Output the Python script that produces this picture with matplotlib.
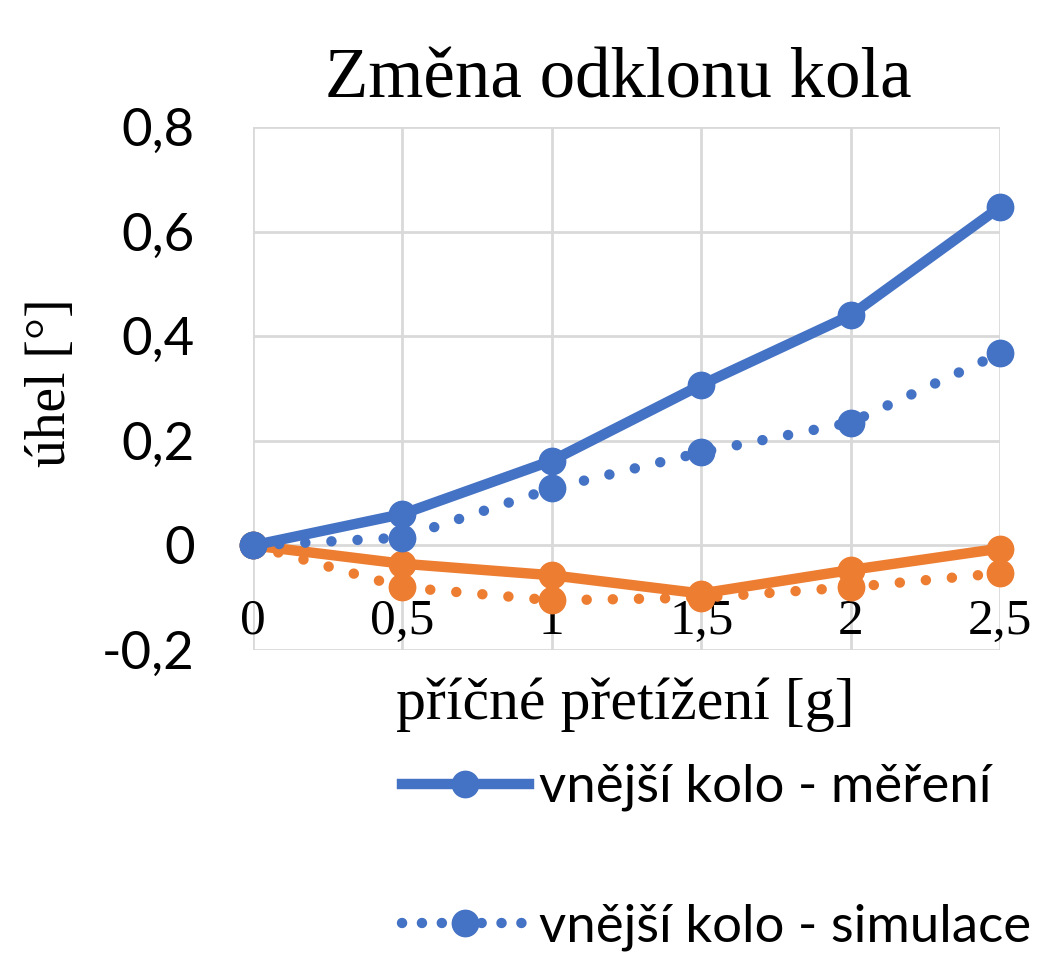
import matplotlib
matplotlib.use("Agg")
import matplotlib.pyplot as plt
from matplotlib.lines import Line2D

# data
zatizeni = [0, 0.5, 1, 1.5, 2, 2.5]
vnejsi_mereni = [0, 0.06, 0.162, 0.307, 0.44, 0.647]
vnejsi_simulace = [0, 0.015, 0.109, 0.178, 0.235, 0.367]
vnitrni_mereni = [0, -0.035, -0.057, -0.092, -0.047, -0.006]
vnitrni_simulace = [0, -0.08, -0.105, -0.1, -0.08, -0.053]
x_labels = ["0", "0,5", "1", "1,5", "2", "2,5"]
y_ticks = [-0.2, 0, 0.2, 0.4, 0.6, 0.8]
y_labels = ["-0,2", "0", "0,2", "0,4", "0,6", "0,8"]

BLUE = "#4472C4"
ORANGE = "#ED7D31"
serif = "Liberation Serif"
sans = "Lato"

fig = plt.figure(figsize=(10.61, 9.61), dpi=100)
ax = fig.add_axes([0.2385, 0.3236, 0.704, 0.5442])

dot = (0, (0.01, 2.5))
common = dict(marker="o", markersize=19, linewidth=7.5, solid_capstyle="round",
              dash_capstyle="round", clip_on=False, zorder=3)
ax.plot(zatizeni, vnitrni_simulace, color=ORANGE, linestyle=dot, **common)
ax.plot(zatizeni, vnitrni_mereni, color=ORANGE, linestyle="-", **common)
ax.plot(zatizeni, vnejsi_simulace, color=BLUE, linestyle=dot, **common)
ax.plot(zatizeni, vnejsi_mereni, color=BLUE, linestyle="-", **common)

# x axis crosses at 0, as in Excel
ax.spines["bottom"].set_position(("data", 0))
for s in ax.spines.values():
    s.set_visible(False)

ax.set_xlim(0, 2.5)
ax.set_ylim(-0.2, 0.8)
ax.set_xticks(zatizeni)
ax.set_xticklabels(x_labels, fontfamily=serif, fontsize=37)
ax.set_yticks(y_ticks)
ax.set_yticklabels(y_labels, fontfamily=sans, fontsize=38)
ax.tick_params(axis="both", length=0)
ax.tick_params(axis="x", pad=38)
ax.tick_params(axis="y", pad=42)
ax.grid(True, color="#D9D9D9", linewidth=2)
ax.set_axisbelow(True)

fig.text(0.5825, 0.899, "Změna odklonu kola", fontfamily=serif, fontsize=51,
         ha="center", va="baseline")
fig.text(0.048, 0.6015, "úhel [°]", fontfamily=serif, fontsize=40,
         rotation=90, ha="center", va="center")
fig.text(0.589, 0.2664, "příčné přetížení [g]", fontfamily=serif, fontsize=43,
         ha="center", va="center")

handles = [
    Line2D([], [], color=BLUE, linestyle="-", marker="o", markersize=19, linewidth=7.5),
    Line2D([], [], color=BLUE, linestyle=(0, (0.01, 1.9)), marker="o", markersize=19,
           linewidth=7.5, dash_capstyle="round"),
]
fig.legend(handles, ["vnější kolo - měření", "vnější kolo - simulace"],
           loc="upper left", bbox_to_anchor=(0.379, 0.205), frameon=False,
           prop={"family": sans, "size": 38}, handlelength=2.4,
           handletextpad=0.2, labelspacing=1.75, borderaxespad=0, borderpad=0)

fig.savefig("out.png", dpi=100)
